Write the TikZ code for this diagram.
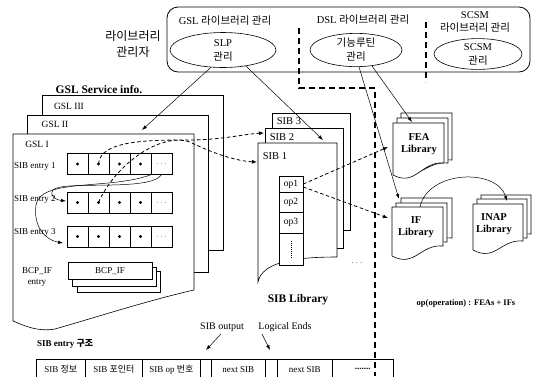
\documentclass[tikz,border=0pt]{standalone}
\usepackage{fontspec}
\setmainfont{Liberation Serif}
\newfontfamily\kr{Noto Sans CJK KR}
\usetikzlibrary{arrows.meta,shapes.geometric}
\newcommand\docpage[5]{%
\draw[pg] (#1,#4) -- (#1,#2) -- ({#1+#3},#2) -- ({#1+#3},#5) .. controls ({#1+0.55*#3},{#5-2}) and ({#1+0.45*#3},{#4+12}) .. (#1,#4) -- cycle;}
\begin{document}
\begin{tikzpicture}[x=1pt,y=-1pt,
  pg/.style={draw, fill=white, line width=0.6pt},
  thinarrow/.style={-{Latex[length=5pt,width=3.5pt]}, line width=0.5pt},
  dasharrow/.style={-{Latex[length=5pt,width=4pt]}, line width=0.8pt, dash pattern=on 3.5pt off 2.5pt},
  divider/.style={line width=1.3pt, dash pattern=on 6pt off 4pt},
  lbl/.style={font=\fontsize{9}{10}\selectfont, inner sep=0pt},
  head/.style={font=\fontsize{10.5}{13}\selectfont\kr, inner sep=0pt, align=center},
  bold/.style={font=\fontsize{11.5}{13}\selectfont\bfseries, inner sep=0pt, align=center},
  libt/.style={font=\fontsize{10.5}{12.5}\selectfont\bfseries, inner sep=0pt, align=center},
  oval/.style={draw, ellipse, line width=0.6pt, inner sep=0pt, align=center, font=\fontsize{10.5}{14}\selectfont},
  pglbl/.style={font=\fontsize{9.5}{10}\selectfont, inner sep=0pt},
  cell/.style={draw, line width=0.6pt, fill=white, minimum width=21pt, minimum height=21pt, inner sep=0pt},
  opbox/.style={draw, line width=0.6pt, fill=white, minimum width=24pt, inner sep=0pt, font=\fontsize{9.5}{10}\selectfont},
  tcell/.style={draw, line width=0.6pt, minimum height=20pt, inner sep=0pt, anchor=north west, font=\fontsize{9}{10}\selectfont}
]
\useasboundingbox (0,0) rectangle (537,376);
\fill[white] (0,0) rectangle (537,376);

% ---------- top management box ----------
\draw[line width=0.8pt, rounded corners=11pt] (167,7) rectangle (530,72);
\node[head, font=\fontsize{12}{16}\selectfont\kr] (mgr) at (133,44) {라이브러리\\관리자};
\node[head] (gslm) at (225,21) {\rmfamily GSL \kr 라이브러리 관리};
\node[head] (dslm) at (363,20) {\rmfamily DSL \kr 라이브러리 관리};
\node[head] (scsmm) at (475,22) {\rmfamily SCSM\\\kr 라이브러리 관리};
\node[oval, minimum width=106pt, minimum height=35pt] (slp) at (223,50) {SLP\\{\kr 관리}};
\node[oval, minimum width=92pt, minimum height=30pt] (func) at (356,50) {{\kr 기능루틴}\\{\kr 관리}};
\node[oval, minimum width=88pt, minimum height=28pt] (scsm) at (478,54) {SCSM\\{\kr 관리}};
\draw[divider] (299,28) -- (299,88) -- (375,88) -- (375,376);
\draw[divider] (426,22) -- (426,82);

% ---------- GSL service info ----------
\node[bold] (gslinfo) at (99,90) {GSL Service info.};
\draw[pg] (42,95) rectangle (223,250);
\node[pglbl] (g3) at (69,106) {GSL III};
\draw[pg] (27,115) rectangle (208,272);
\node[pglbl] (g2) at (55,124) {GSL II};
\draw[pg] (13,321) -- (13,134) -- (194,134) -- (194,290) .. controls (150,300) and (100,316) .. (55,329) .. controls (38,332) and (25,326) .. (13,321) -- cycle;
\node[pglbl] (g1) at (37,144) {GSL I};

\foreach \r/\y in {1/164,2/202.5,3/236.5}{
  \foreach \i/\x in {0/77.5,1/98.5,2/119.5,3/140.5}{
    \node[cell] (r\r c\i) at (\x,\y) {};
    \fill (r\r c\i.center) circle (1.6pt);
  }
  \node[cell, font=\fontsize{7}{8}\selectfont] (r\r c4) at (161.5,\y) {$\cdots$};
}
\node[lbl, anchor=west] (e1) at (14,166) {SIB entry 1};
\node[lbl, anchor=west] (e2) at (14,199) {SIB entry 2};
\node[lbl, anchor=west] (e3) at (14,232) {SIB entry 3};

\draw[pg] (77,271) rectangle (160,292);
\draw[pg] (72,267) rectangle (156,286);
\node[draw, line width=0.6pt, fill=white, minimum width=84pt, minimum height=17pt, inner sep=0pt, font=\fontsize{9}{10}\selectfont] (bcp) at (110,271) {BCP\_IF};
\node[lbl, align=center, font=\fontsize{9}{11}\selectfont] (bcpl) at (37,277) {BCP\_IF\\entry};

% chain curves inside GSL I
\coordinate (c2in) at (66,201);
\coordinate (c3in) at (63,243);
\draw[thinarrow] (r1c4.south) .. controls (150,192) and (62,180) .. (53,190) .. controls (49,196) and (56,200) .. (c2in);
\draw[thinarrow] (r1c4.south west) .. controls (110,190) and (40,178) .. (36,205) .. controls (33,226) and (45,240) .. (c3in);

% ---------- SIB library ----------
\draw[pg] (272,113) rectangle (350,230);
\node[pglbl, font=\fontsize{10.5}{11}\selectfont] (s3) at (289,121) {SIB 3};
\draw[pg] (265,128) rectangle (343,248);
\node[pglbl, font=\fontsize{10.5}{11}\selectfont] (s2) at (282,137) {SIB 2};
\draw[pg] (258,282) -- (258,143) -- (337,143) -- (337,257) .. controls (295,257) and (262,262) .. (258,282) -- cycle;
\node[pglbl, font=\fontsize{10.5}{11}\selectfont] (s1) at (275,156) {SIB 1};
\node[opbox, minimum height=16pt] (op1) at (291,184) {op1};
\node[opbox, minimum height=20pt] (op2) at (291,202) {op2};
\node[opbox, minimum height=21pt] (op3) at (291,222.5) {op3};
\node[opbox, minimum height=32pt] (opd) at (291,249) {};
\draw[line width=1pt, dash pattern=on 0.8pt off 1.2pt] (291,241) -- (291,258);
\node[bold] (siblib) at (298,300) {SIB Library};
\node[font=\fontsize{9}{9}\selectfont, inner sep=0pt] (more) at (357,263) {$\cdots$};

\coordinate (sib2in) at (264,133);
\coordinate (sib1in) at (257,162);
\draw[dasharrow] (r1c1.center) .. controls (100,140) and (150,140) .. (190,140) .. controls (220,140) and (245,134) .. (sib2in);
\draw[dasharrow] (r2c1.center) .. controls (115,165) and (160,132) .. (190,142) .. controls (210,152) and (235,161) .. (sib1in);

% ---------- FEA / IF / INAP libraries ----------
\docpage{401}{113}{51}{165}{160}
\docpage{397}{118}{51}{170}{163}
\docpage{393}{123}{51}{175}{163}
\node[libt] (fea) at (419,144) {FEA\\Library};
\docpage{401}{198}{51}{245}{238}
\docpage{396}{203}{51}{250}{242}
\docpage{392}{207}{51}{256}{246}
\node[libt] (iflib) at (416,227) {IF\\Library};
\docpage{481}{195}{50}{240}{234}
\docpage{477}{199}{50}{245}{238}
\docpage{473}{204}{50}{250}{241}
\node[libt] (inap) at (494,224) {INAP\\Library};
\node[font=\fontsize{8.5}{10}\selectfont\bfseries, inner sep=0pt] (opdef) at (466,303) {op(operation) : FEAs + IFs};

\coordinate (feain) at (388,147);
\coordinate (ifin) at (388,218);
\draw[dasharrow] (op1.east) -- (feain);
\draw[dasharrow] ([yshift=-3pt]op1.east) -- (ifin);

% arrows from management ovals
\coordinate (gsl2in) at (142,130);
\coordinate (sibin) at (323,140);
\coordinate (featop) at (412,122);
\coordinate (iftop) at (399,199);
\coordinate (inaptop) at (507,201);
\coordinate (ifsrc) at (420,207);
\draw[thinarrow] (slp.235) -- (gsl2in);
\draw[thinarrow] (slp.-35) -- (sibin);
\draw[thinarrow] (func.-80) -- (iftop);
\draw[thinarrow] (func.-45) -- (featop);
\draw[thinarrow] (ifsrc) .. controls (428,170) and (497,168) .. (inaptop);

% ---------- SIB entry structure ----------
\node[font=\fontsize{9}{10}\selectfont\bfseries, inner sep=0pt, anchor=west] (struct) at (37,344) {SIB entry {\kr 구조}};
\node[tcell, minimum width=49pt] (t1) at (36,359) {SIB {\kr 정보}};
\node[tcell, minimum width=57pt] (t2) at (85,359) {SIB {\kr 포인터}};
\node[tcell, minimum width=58pt] (t3) at (142,359) {SIB op {\kr 번호}};
\node[tcell, minimum width=11pt] (t4) at (200,359) {};
\node[tcell, minimum width=54pt] (t5) at (211,359) {next SIB};
\node[tcell, minimum width=12pt] (t6) at (265,359) {};
\node[tcell, minimum width=55pt] (t7) at (277,359) {next SIB};
\node[tcell, minimum width=61pt] (t8) at (332,359) {\textbf{.......}};
\node[lbl, font=\fontsize{10}{11}\selectfont] (outl) at (222,327) {SIB output};
\node[lbl, font=\fontsize{10}{11}\selectfont] (logl) at (285,327) {Logical Ends};
\coordinate (outsrc) at (221,334);
\coordinate (logsrc) at (262,334);
\coordinate (outdst) at (206,350);
\coordinate (logdst) at (270,350);
\draw[thinarrow] (outsrc) -- (outdst);
\draw[thinarrow] (logsrc) -- (logdst);
\end{tikzpicture}
\end{document}
